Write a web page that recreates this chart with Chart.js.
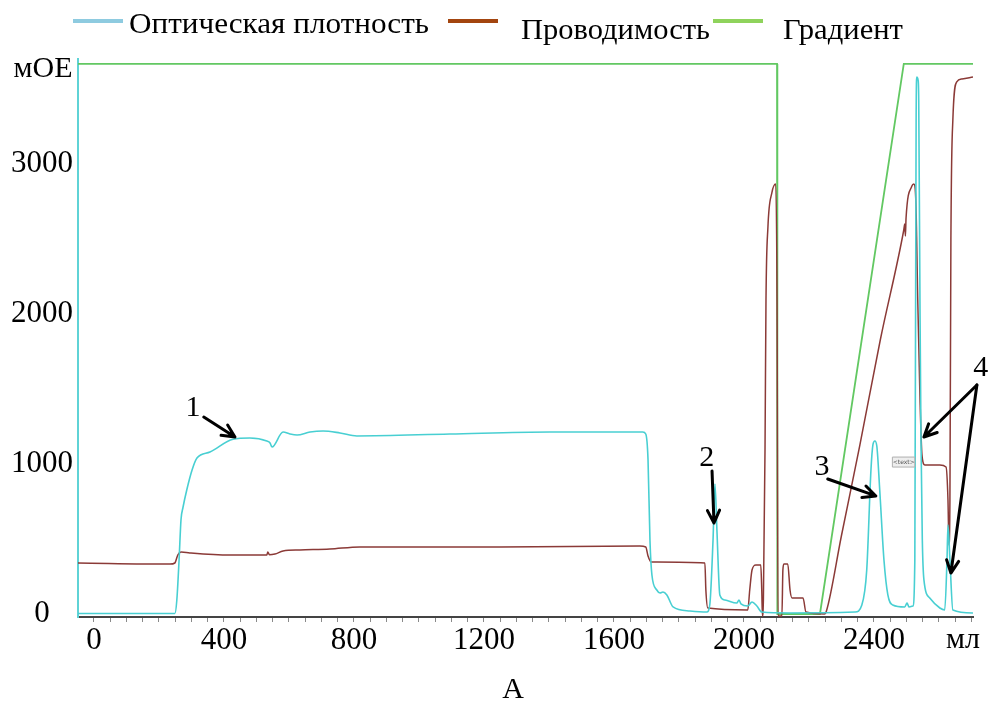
<!DOCTYPE html>
<html lang="ru">
<head>
<meta charset="UTF-8">
<title>Хроматограмма А</title>
<script src="https://cdn.jsdelivr.net/npm/chart.js@4"></script>
<style>
  html, body { margin: 0; padding: 0; background: #fff; }
  #wrap { width: 989px; height: 706px; }
</style>
</head>
<body>
<div id="wrap"><canvas id="chart" width="989" height="706"></canvas></div>
<script>
// volume, ml  /  optical density, mOE (conductivity and gradient are drawn on the same scale)
const odMl  = [-49, 249, 255, 262, 268, 274, 286, 302, 317, 357, 428, 480, 532, 542, 548, 582, 603, 625, 665, 705, 757, 809, 1095, 1403, 1689, 1698, 1705, 1711, 1717, 1732, 1742, 1751, 1763, 1782, 1834, 1886, 1895, 1905, 1911, 1917, 1926, 1942, 1978, 1985, 1991, 2012, 2025, 2040, 2055, 2142, 2342, 2363, 2378, 2391, 2397, 2403, 2409, 2418, 2431, 2443, 2458, 2495, 2502, 2508, 2520, 2526, 2530, 2532, 2536, 2538, 2542, 2545, 2549, 2554, 2572, 2603, 2618, 2625, 2628, 2634, 2643, 2705];
const odVal = [3, 3, 90, 360, 630, 710, 830, 960, 1040, 1080, 1165, 1173, 1153, 1140, 1113, 1213, 1200, 1193, 1213, 1220, 1207, 1187, 1200, 1213, 1213, 1200, 1030, 490, 260, 160, 140, 147, 127, 47, 20, 13, 60, 490, 867, 560, 127, 93, 73, 93, 67, 53, 80, 53, 13, 7, 13, 60, 293, 960, 1127, 1153, 1120, 827, 360, 127, 60, 47, 73, 47, 53, 360, 3300, 3580, 3560, 3427, 2000, 1160, 500, 227, 107, 40, 27, 360, 593, 360, 27, 7];

const condMl  = [-49, 234, 249, 258, 268, 295, 418, 532, 535, 540, 557, 582, 634, 726, 818, 1249, 1680, 1698, 1705, 1714, 1880, 1883, 1889, 2012, 2018, 2025, 2037, 2052, 2055, 2057, 2060, 2065, 2068, 2074, 2086, 2098, 2102, 2105, 2117, 2120, 2123, 2135, 2142, 2148, 2182, 2191, 2248, 2254, 2300, 2357, 2420, 2492, 2495, 2497, 2499, 2517, 2523, 2529, 2535, 2542, 2548, 2557, 2603, 2622, 2628, 2631, 2634, 2637, 2643, 2655, 2671, 2705];
const condVal = [340, 333, 340, 393, 413, 407, 393, 393, 413, 395, 400, 420, 427, 433, 447, 447, 453, 447, 387, 347, 340, 160, 40, 27, 160, 293, 327, 327, 160, -13, 93, 1093, 2093, 2580, 2807, 2867, 2093, -13, -13, 293, 333, 333, 160, 107, 107, 13, 0, 20, 520, 1127, 1830, 2560, 2600, 2520, 2640, 2853, 2867, 2760, 2093, 1427, 1060, 993, 993, 980, 760, 460, 760, 2493, 3293, 3547, 3567, 3580];

const gradMl  = [-49, 2102, 2103, 2234, 2492, 2705];
const gradVal = [3667, 3667, 0, 0, 3667, 3667];

const xTickLabels = [0, 400, 800, 1200, 1600, 2000, 2400];
const yTickLabels = [0, 1000, 2000, 3000];

// peak marks: number, where it sits, arrow tails and heads (ml, mOE)
const peakMarks = [
  { text: '1', at: [305, 1373], arrows: [[[338, 1313], [434, 1180]]] },
  { text: '2', at: [1886, 1040], arrows: [[[1902, 953], [1908, 607]]] },
  { text: '3', at: [2240, 980], arrows: [[[2258, 900], [2406, 787]]] },
  { text: '4', at: [2729, 1640], arrows: [[[2717, 1527], [2554, 1180]], [[2717, 1527], [2637, 273]]] }
];

const toPoints = (xs, ys) => xs.map((v, i) => ({ x: v, y: ys[i] }));
const serif = '"Liberation Serif", "Times New Roman", serif';

function arrow(ctx, x0, y0, x1, y1) {
  const a = Math.atan2(y1 - y0, x1 - x0), h = 14, s = 0.45;
  ctx.beginPath();
  ctx.moveTo(x0, y0); ctx.lineTo(x1, y1);
  ctx.moveTo(x1 - h * Math.cos(a - s), y1 - h * Math.sin(a - s));
  ctx.lineTo(x1, y1);
  ctx.lineTo(x1 - h * Math.cos(a + s), y1 - h * Math.sin(a + s));
  ctx.stroke();
}

const overlay = {
  id: 'overlay',
  afterDraw(chart) {
    const { ctx, scales: { x, y } } = chart;
    ctx.save();

    // legend
    const legend = [
      { color: '#8ecbe0', line: 73, tx: 129, tw: 300, base: 33 },
      { color: '#a3450f', line: 448, tx: 521, tw: 189, base: 39 },
      { color: '#8fd35c', line: 713, tx: 783, tw: 120, base: 39 }
    ];
    ctx.font = '30px ' + serif;
    ctx.textBaseline = 'alphabetic';
    ctx.textAlign = 'left';
    legend.forEach((it, i) => {
      const label = chart.data.datasets[i].label;
      ctx.strokeStyle = it.color;
      ctx.lineWidth = 4;
      ctx.beginPath(); ctx.moveTo(it.line, 21); ctx.lineTo(it.line + 50, 21); ctx.stroke();
      const w = ctx.measureText(label).width;
      ctx.save();
      ctx.translate(it.tx, it.base);
      ctx.scale(it.tw / w, 1);
      ctx.fillStyle = '#000';
      ctx.fillText(label, 0, 0);
      ctx.restore();
    });

    // axis units and caption
    ctx.fillStyle = '#000';
    ctx.textAlign = 'center';
    ctx.textBaseline = 'middle';
    ctx.font = '30px ' + serif;
    ctx.fillText('мОЕ', 43, 69);
    ctx.fillText('мл', 963, 640);
    ctx.fillText('А', 513, 690);

    // peak numbers and arrows
    ctx.strokeStyle = '#000';
    ctx.lineWidth = 3;
    ctx.lineCap = 'round';
    ctx.lineJoin = 'round';
    peakMarks.forEach(m => {
      ctx.fillText(m.text, x.getPixelForValue(m.at[0]), y.getPixelForValue(m.at[1]));
      m.arrows.forEach(([p, q]) => arrow(ctx,
        x.getPixelForValue(p[0]), y.getPixelForValue(p[1]),
        x.getPixelForValue(q[0]), y.getPixelForValue(q[1])));
    });

    // stray "<text>" marker left in the original figure
    const bx = x.getPixelForValue(2492), by = y.getPixelForValue(1013);
    ctx.fillStyle = '#eeeeee';
    ctx.strokeStyle = '#b0b0b0';
    ctx.lineWidth = 1;
    ctx.fillRect(bx - 11, by - 5, 22, 10);
    ctx.strokeRect(bx - 11, by - 5, 22, 10);
    ctx.fillStyle = '#555';
    ctx.font = '6px "DejaVu Sans", sans-serif';
    ctx.fillText('<text>', bx, by);

    ctx.restore();
  }
};

new Chart(document.getElementById('chart'), {
  type: 'line',
  data: {
    datasets: [
      { label: 'Оптическая плотность', data: toPoints(odMl, odVal), borderColor: '#48cfd2', borderWidth: 1.6, pointRadius: 0, cubicInterpolationMode: 'monotone' },
      { label: 'Проводимость', data: toPoints(condMl, condVal), borderColor: '#8b3a37', borderWidth: 1.5, pointRadius: 0, cubicInterpolationMode: 'monotone' },
      { label: 'Градиент', data: toPoints(gradMl, gradVal), borderColor: '#62c862', borderWidth: 1.8, pointRadius: 0, tension: 0 }
    ]
  },
  options: {
    responsive: false,
    animation: false,
    devicePixelRatio: 1,
    layout: { padding: { top: 59, right: 16, left: 0, bottom: 0 } },
    plugins: { legend: { display: false }, tooltip: { enabled: false } },
    scales: {
      x: {
        type: 'linear',
        min: -49,
        max: 2705,
        afterFit: s => { s.height = 89; },
        afterBuildTicks: s => {
          const t = [];
          for (let v = 0; v <= 2700; v += 50) t.push({ value: v });
          s.ticks = t;
        },
        grid: { display: true, drawOnChartArea: false, drawTicks: true, tickLength: 5, color: '#8a8a8a' },
        border: { display: true, color: '#444', width: 2 },
        ticks: {
          autoSkip: false, maxRotation: 0, padding: 0, color: '#000',
          font: { family: serif, size: 31 },
          callback: v => xTickLabels.includes(v) ? String(v) : ''
        }
      },
      y: {
        type: 'linear',
        min: -20,
        max: 3700,
        afterFit: s => { s.width = 78; },
        afterBuildTicks: s => { s.ticks = yTickLabels.map(v => ({ value: v })); },
        grid: { display: false, drawTicks: false },
        border: { display: true, color: '#5fd3d6', width: 2 },
        ticks: {
          crossAlign: 'center', padding: 5, color: '#000',
          font: { family: serif, size: 31 },
          callback: v => String(v)
        }
      }
    }
  },
  plugins: [overlay]
});
</script>
</body>
</html>
